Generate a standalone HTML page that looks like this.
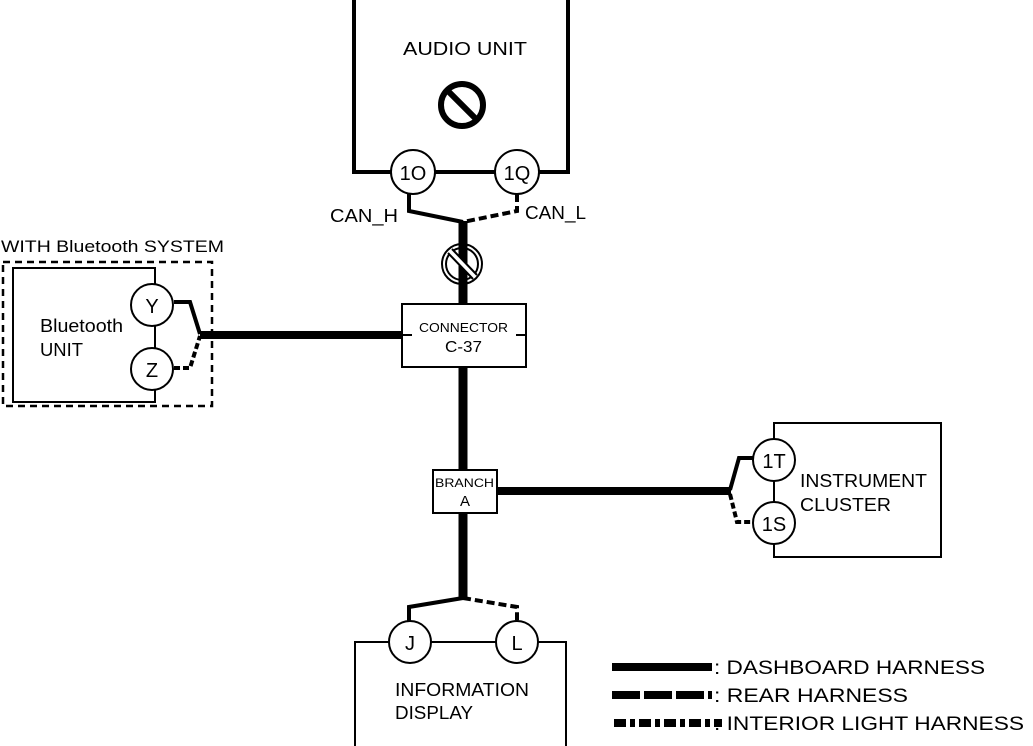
<!DOCTYPE html>
<html><head><meta charset="utf-8"><style>
html,body{margin:0;padding:0;background:#fff}
svg{display:block}
text{font-family:"Liberation Sans",Arial,sans-serif;fill:#000}
</style></head><body>
<svg width="1033" height="746" viewBox="0 0 1033 746" xmlns="http://www.w3.org/2000/svg">
<rect width="1033" height="746" fill="#fff"/>
<!-- Audio unit -->
<path d="M354 -5 V172 H568 V-5" fill="none" stroke="#000" stroke-width="4"/>
<text x="403" y="55" font-size="18" textLength="124" lengthAdjust="spacingAndGlyphs">AUDIO UNIT</text>
<circle cx="462" cy="105" r="21" fill="none" stroke="#000" stroke-width="6"/>
<line x1="448" y1="91" x2="476" y2="119" stroke="#000" stroke-width="6"/>
<circle cx="413" cy="172" r="22" fill="#fff" stroke="#000" stroke-width="2"/>
<circle cx="517" cy="172" r="22" fill="#fff" stroke="#000" stroke-width="2"/>
<text x="413" y="180" font-size="20" text-anchor="middle">1O</text>
<text x="517" y="180" font-size="20" text-anchor="middle">1Q</text>
<path d="M409 194 V211 L463 222" fill="none" stroke="#000" stroke-width="4"/>
<path d="M517 194 V211 L463 222" fill="none" stroke="#000" stroke-width="4" stroke-dasharray="8 4"/>
<text x="330" y="222" font-size="18" textLength="68" lengthAdjust="spacingAndGlyphs">CAN_H</text>
<text x="525" y="219" font-size="18" textLength="61" lengthAdjust="spacingAndGlyphs">CAN_L</text>
<line x1="463" y1="221" x2="463" y2="304" stroke="#000" stroke-width="9"/>
<circle cx="462" cy="264" r="20" fill="#fff" stroke="#000" stroke-width="2"/>
<circle cx="462" cy="264" r="16" fill="none" stroke="#000" stroke-width="2"/>
<line x1="463" y1="245" x2="463" y2="283" stroke="#000" stroke-width="9"/>
<line x1="450" y1="251" x2="475" y2="277" stroke="#fff" stroke-width="6"/>
<line x1="450" y1="251" x2="475" y2="277" stroke="#000" stroke-width="2" transform="translate(-2,2)"/>
<line x1="450" y1="251" x2="475" y2="277" stroke="#000" stroke-width="2" transform="translate(2,-2)"/>
<!-- Connector -->
<rect x="402" y="304" width="124" height="63" fill="#fff" stroke="#000" stroke-width="2"/>
<path d="M402 335 H412 M526 335 H516" stroke="#000" stroke-width="2"/>
<text x="419" y="332" font-size="13" textLength="89" lengthAdjust="spacingAndGlyphs">CONNECTOR</text>
<text x="445" y="352" font-size="16" textLength="37" lengthAdjust="spacingAndGlyphs">C-37</text>
<line x1="200" y1="335" x2="402" y2="335" stroke="#000" stroke-width="8"/>
<!-- Bluetooth -->
<text x="1" y="252" font-size="17" textLength="223" lengthAdjust="spacingAndGlyphs">WITH Bluetooth SYSTEM</text>
<rect x="3" y="262" width="209" height="144" fill="none" stroke="#000" stroke-width="2.5" stroke-dasharray="7 5"/>
<path d="M155 268 H13 V402 H155 Z" fill="none" stroke="#000" stroke-width="2"/>
<circle cx="152" cy="305" r="21" fill="#fff" stroke="#000" stroke-width="2"/>
<circle cx="152" cy="369" r="21" fill="#fff" stroke="#000" stroke-width="2"/>
<text x="152" y="313" font-size="20" text-anchor="middle">Y</text>
<text x="152" y="377" font-size="20" text-anchor="middle">Z</text>
<text x="40" y="332" font-size="18" textLength="83" lengthAdjust="spacingAndGlyphs">Bluetooth</text>
<text x="40" y="356" font-size="18" textLength="43" lengthAdjust="spacingAndGlyphs">UNIT</text>
<path d="M174 302 H190 L200 334" fill="none" stroke="#000" stroke-width="4"/>
<path d="M174 368 H190 L200 336" fill="none" stroke="#000" stroke-width="4" stroke-dasharray="6 3"/>
<!-- Trunk to branch -->
<line x1="463" y1="367" x2="463" y2="470" stroke="#000" stroke-width="9"/>
<rect x="433" y="470" width="64" height="43" fill="#fff" stroke="#000" stroke-width="2"/>
<text x="435" y="487" font-size="12" textLength="59" lengthAdjust="spacingAndGlyphs">BRANCH</text>
<text x="465" y="506" font-size="15" text-anchor="middle">A</text>
<line x1="497" y1="491" x2="731" y2="491" stroke="#000" stroke-width="8"/>
<path d="M730 490 L739 458 H753" fill="none" stroke="#000" stroke-width="4"/>
<path d="M730 494 L737 522 H753" fill="none" stroke="#000" stroke-width="4" stroke-dasharray="6 3"/>
<path d="M774 439 V423 H941 V557 H774 V543" fill="none" stroke="#000" stroke-width="2"/>
<line x1="774" y1="481" x2="774" y2="502" stroke="#000" stroke-width="2"/>
<circle cx="774" cy="460" r="21" fill="#fff" stroke="#000" stroke-width="2"/>
<circle cx="774" cy="523" r="21" fill="#fff" stroke="#000" stroke-width="2"/>
<text x="774" y="468" font-size="20" text-anchor="middle">1T</text>
<text x="774" y="531" font-size="20" text-anchor="middle">1S</text>
<text x="800" y="487" font-size="18" textLength="127" lengthAdjust="spacingAndGlyphs">INSTRUMENT</text>
<text x="800" y="511" font-size="18" textLength="91" lengthAdjust="spacingAndGlyphs">CLUSTER</text>
<!-- Down to display -->
<line x1="463" y1="513" x2="463" y2="600" stroke="#000" stroke-width="9"/>
<path d="M463 598 L409 607 V622" fill="none" stroke="#000" stroke-width="4"/>
<path d="M463 598 L517 607 V622" fill="none" stroke="#000" stroke-width="4" stroke-dasharray="8 4"/>
<rect x="355" y="642" width="211" height="110" fill="none" stroke="#000" stroke-width="2"/>
<circle cx="410" cy="642" r="21" fill="#fff" stroke="#000" stroke-width="2"/>
<circle cx="517" cy="642" r="21" fill="#fff" stroke="#000" stroke-width="2"/>
<text x="410" y="650" font-size="20" text-anchor="middle">J</text>
<text x="517" y="650" font-size="20" text-anchor="middle">L</text>
<text x="395" y="696" font-size="18" textLength="134" lengthAdjust="spacingAndGlyphs">INFORMATION</text>
<text x="395" y="719" font-size="18" textLength="78" lengthAdjust="spacingAndGlyphs">DISPLAY</text>
<!-- Legend -->
<line x1="612" y1="667" x2="712" y2="667" stroke="#000" stroke-width="8"/>
<line x1="612" y1="695" x2="712" y2="695" stroke="#000" stroke-width="8" stroke-dasharray="28 4"/>
<path d="M614 723 h12 m4 0 h5 m4 0 h12 m4 0 h5 m4 0 h12 m4 0 h5 m4 0 h12 m4 0 h5 m4 0 h8" stroke="#000" stroke-width="8"/>
<text x="714" y="674" font-size="19" textLength="271" lengthAdjust="spacingAndGlyphs">: DASHBOARD HARNESS</text>
<text x="714" y="702" font-size="19" textLength="194" lengthAdjust="spacingAndGlyphs">: REAR HARNESS</text>
<text x="714" y="730" font-size="19" textLength="310" lengthAdjust="spacingAndGlyphs">: INTERIOR LIGHT HARNESS</text>
</svg>
</body></html>
